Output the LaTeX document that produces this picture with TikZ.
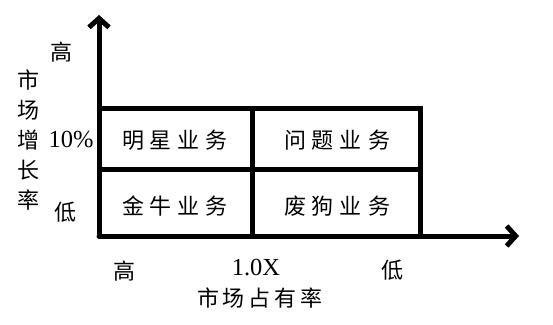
\documentclass[tikz,border=0pt]{standalone}
\usepackage{fontspec}
\setmainfont{Liberation Serif}
\newfontfamily\cjk{Noto Sans CJK SC}[Scale=1]
\usetikzlibrary{arrows.meta}
\tikzset{
  axisline/.style={line width=5pt, line cap=round},
  gridline/.style={line width=5pt},
  lbl/.style={font=\cjk\fontsize{22}{22}\selectfont, inner sep=0pt},
  latinlbl/.style={font=\fontsize{24.5}{24.5}\selectfont, inner sep=0pt},
  quad/.style={font=\cjk\fontsize{22}{22}\selectfont, inner sep=0pt}
}
\newcommand{\qsp}{\hspace{6pt}}
\begin{document}
\begin{tikzpicture}[x=1pt,y=-1pt]
\useasboundingbox (0,0) rectangle (553,324);
\fill[white] (0,0) rectangle (553,324);
% coordinates
\coordinate (O) at (99,236);
\coordinate (ytip) at (99,15);
\coordinate (xtip) at (519,236);
\coordinate (TL) at (99,108);
\coordinate (TR) at (423,108);
\coordinate (ML) at (99,169);
\coordinate (MR) at (420,169);
\coordinate (TM) at (252,108);
\coordinate (BM) at (252,236);
\coordinate (TRv) at (420,108);
\coordinate (BR) at (420,236);
% grid
\draw[gridline] (TL) -- (TR);
\draw[gridline] (ML) -- (MR);
\draw[gridline] (TM) -- (BM);
\draw[gridline] (TRv) -- (BR);
% axes
\draw[axisline, -{Straight Barb[length=9pt,width=20pt,line width=5pt]}] (O) -- (ytip);
\draw[axisline, -{Straight Barb[length=9pt,width=20pt,line width=5pt]}] (O) -- (xtip);
% quadrant labels
\node[quad] (star) at (175,140) {明\qsp 星\qsp 业\qsp 务};
\node[quad] (question) at (337,140) {问\qsp 题\qsp 业\qsp 务};
\node[quad] (cow) at (175,206) {金\qsp 牛\qsp 业\qsp 务};
\node[quad] (dog) at (337,206) {废\qsp 狗\qsp 业\qsp 务};
% y-axis labels
\node[lbl] (yhigh) at (61,52) {高};
\node[latinlbl] (ten) at (71,140) {10\%};
\node[lbl] (ylow) at (65,212) {低};
\node[lbl, align=center, font=\cjk\fontsize{22}{30}\selectfont] (ytitle) at (28,140) {市\\场\\增\\长\\率};
% x-axis labels
\node[lbl] (xhigh) at (124,271) {高};
\node[latinlbl] (onex) at (256,268) {1.0X};
\node[lbl] (xlow) at (392,270) {低};
\node[lbl] (xtitle) at (260,298) {市\hspace{4pt}场\hspace{4pt}占\hspace{4pt}有\hspace{4pt}率};
\end{tikzpicture}
\end{document}
